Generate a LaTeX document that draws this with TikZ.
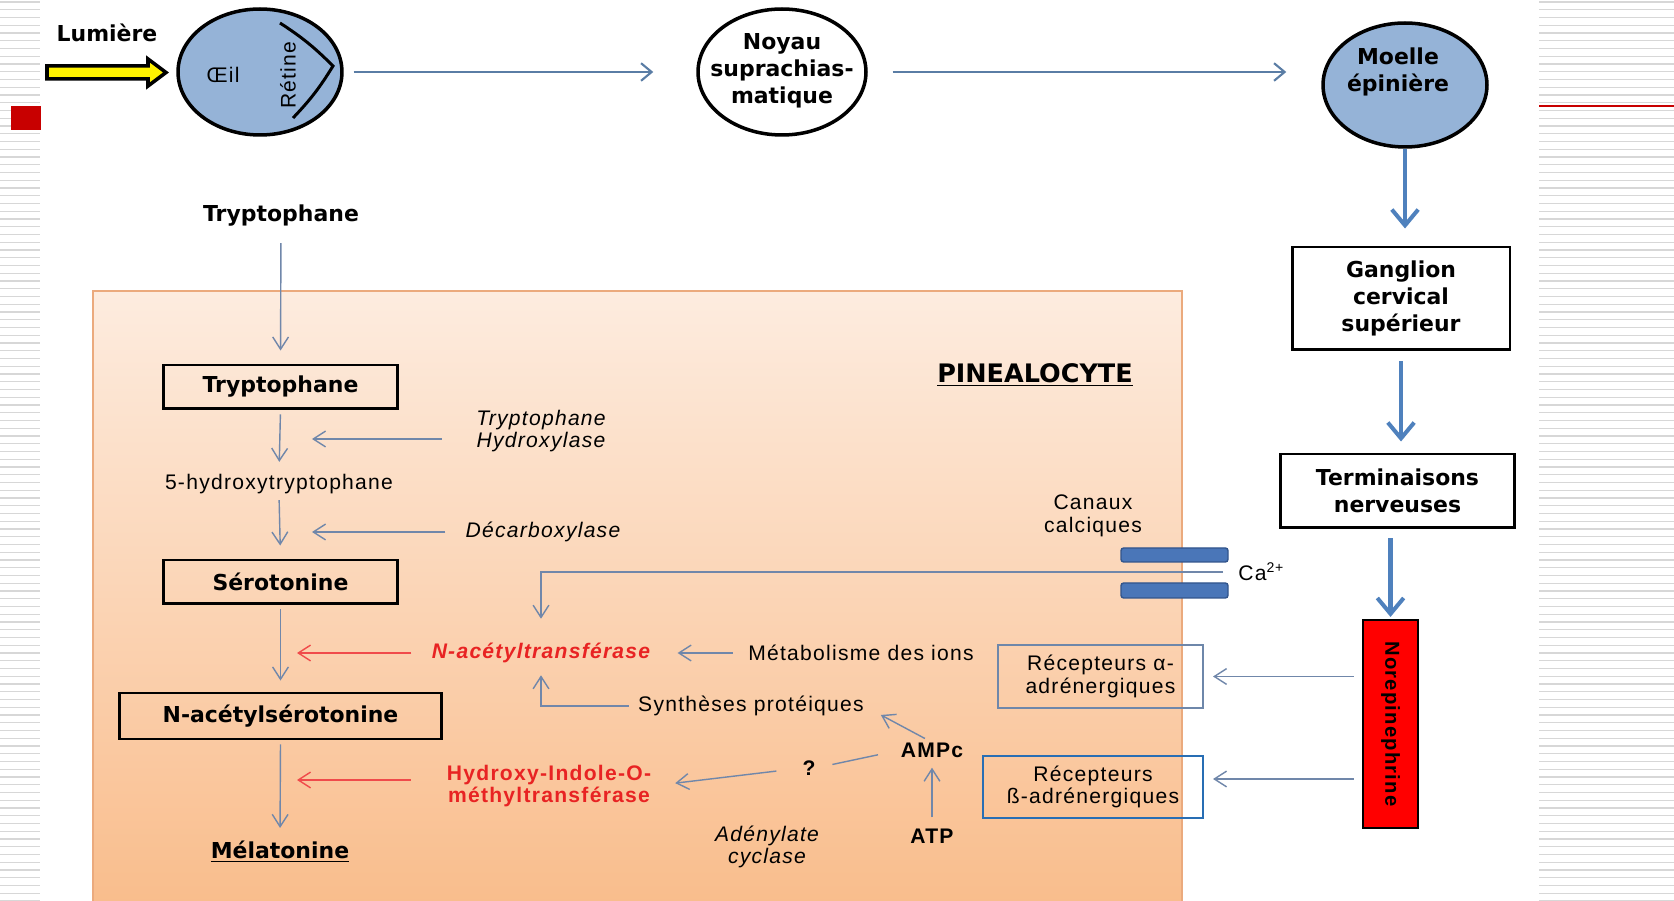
\documentclass[tikz,border=0pt]{standalone}
\usepackage{fontspec}
\setmainfont{Liberation Sans}[LetterSpace=6]
\newfontfamily\verd{DejaVu Sans}
\usepackage{tikz}
\usetikzlibrary{arrows.meta, shapes.geometric}
\usepackage{xcolor}

\definecolor{eyeblue}{RGB}{149,179,215}
\definecolor{arrowgray}{RGB}{112,135,170}
\definecolor{topgray}{RGB}{90,125,165}
\definecolor{thickblue}{RGB}{79,129,189}
\definecolor{redflowc}{RGB}{240,75,75}
\definecolor{redtext}{RGB}{232,35,35}
\definecolor{recAcol}{RGB}{110,135,170}
\definecolor{recBcol}{RGB}{40,110,180}
\definecolor{chanfill}{RGB}{74,118,184}
\definecolor{chanedge}{RGB}{50,85,140}
\definecolor{pinetop}{RGB}{253,236,223}
\definecolor{pinebot}{RGB}{249,189,140}
\definecolor{pineedge}{RGB}{235,170,125}
\definecolor{stripegray}{RGB}{215,215,215}
\definecolor{slidered}{RGB}{200,0,0}

\begin{document}
\begin{tikzpicture}[
    x=0.02cm, y=-0.02cm,
    lab/.style={inner sep=0pt, align=center, font=\fontsize{12}{13}\selectfont},
    enz/.style={lab, font=\fontsize{12}{13}\selectfont\itshape},
    boldlab/.style={inner sep=0pt, align=center, font=\verd\bfseries\fontsize{12.5}{15.5}\selectfont},
    stepbox/.style={boldlab, draw, line width=1.7pt},
    organ/.style={ellipse, draw, line width=2pt, inner sep=0pt},
    recbox/.style={lab, draw, line width=1.2pt},
    chan/.style={draw=chanedge, fill=chanfill, line width=0.8pt, rounded corners=1.5pt, inner sep=0pt},
    stripe/.style={draw=stripegray, line width=0.8pt},
    flow/.style={draw=arrowgray, line width=0.8pt, -{Straight Barb[length=7pt,width=9pt]}},
    redflow/.style={draw=redflowc, line width=0.8pt, -{Straight Barb[length=7pt,width=9pt]}},
    toparrow/.style={draw=topgray, line width=1.2pt, -{Straight Barb[length=6pt,width=10pt]}},
    thickarrow/.style={draw=thickblue, line width=2.3pt, -{Straight Barb[length=9pt,width=15pt]}}
]
\useasboundingbox (0,0) rectangle (1674,901);

% Slide strips
\foreach \k in {0,...,116} {
    \draw[stripe] (0,{\k*7.75+2}) -- (40,{\k*7.75+2});
    \draw[stripe] (1539,{\k*7.75+2}) -- (1674,{\k*7.75+2});
}
\fill[slidered] (11,106) rectangle (41,130);
\draw[slidered, line width=1.5pt] (1539,106) -- (1674,106);

% Pinealocyte
\shade[top color=pinetop, bottom color=pinebot] (93,291) rectangle (1182,905);
\draw[pineedge, line width=1pt] (93,905) -- (93,291) -- (1182,291) -- (1182,905);
\node[boldlab, font=\verd\bfseries\fontsize{14.5}{17}\selectfont] (pineal) at (1035,375) {\underline{PINEALOCYTE}};

% Top row
\node[boldlab] (lumiere) at (107,33) {Lumière};
\draw[fill=yellow, line width=2pt] (47,66) -- (148,66) -- (148,59) -- (166,72.5) -- (148,86) -- (148,79) -- (47,79) -- cycle;
\node[organ, fill=eyeblue, minimum width=3.28cm, minimum height=2.52cm] (oeil) at (260,72) {};
\node[lab] (oeiltxt) at (223,75) {Œil};
\node[lab, rotate=90] (retine) at (288,75) {Rétine};
\draw[line width=1.7pt] (280,23) to[bend left=6] (333,66) to[bend left=6] (293,118);

\node[organ, fill=white, minimum width=3.36cm, minimum height=2.52cm] (noyau) at (782,72) {};
\node[boldlab] (noyautxt) at (782,71) {Noyau\\suprachias-\\matique};

\node[organ, fill=eyeblue, minimum width=3.28cm, minimum height=2.48cm] (moelle) at (1405,85) {};
\node[boldlab] (moelletxt) at (1398,72) {Moelle\\épinière};

\draw[toparrow, shorten <=0.2cm, shorten >=0.86cm] (oeil.east) -- (noyau.west);
\draw[toparrow, shorten <=0.5cm, shorten >=0.7cm] (noyau.east) -- (noyau.east -| moelle.west);

% Right column
\node[stepbox, minimum width=4.36cm, minimum height=2.06cm] (ganglion) at (1401,298.5) {Ganglion\\cervical\\supérieur};
\node[stepbox, minimum width=4.7cm, minimum height=1.48cm] (termin) at (1397.5,491) {Terminaisons\\nerveuses};
\node[draw, line width=1.2pt, fill=red, minimum width=1.1cm, minimum height=4.16cm, inner sep=0pt] (norepi) at (1390.5,724) {};
\node[rotate=-90, inner sep=0pt, font=\bfseries\fontsize{11.5}{13}\selectfont] (norepitxt) at (norepi.center) {Norepinephrine};

\draw[thickarrow, shorten >=0.34cm] (moelle.south) -- (moelle.south |- ganglion.north);
\draw[thickarrow, shorten <=0.2cm, shorten >=0.22cm] (ganglion.south) -- (ganglion.south |- termin.north);
\draw[thickarrow, shorten <=0.18cm, shorten >=0.04cm] (termin.south -| norepi.north) -- (norepi.north);

% Receptors and calcium channels
\node[recbox, draw=recAcol, minimum width=4.1cm, minimum height=1.26cm] (recA) at (1100.5,676.5) {Récepteurs α-\\adrénergiques};
\node[recbox, draw=recBcol, minimum width=4.4cm, minimum height=1.24cm] (recB) at (1093,787) {Récepteurs\\ß-adrénergiques};
\coordinate (recBin) at ([yshift=0.16cm]recB.east);
\draw[flow, shorten <=0.16cm, shorten >=0.18cm] (recA.east -| norepi.west) -- (recA.east);
\draw[flow, shorten <=0.16cm, shorten >=0.18cm] (recBin -| norepi.west) -- (recBin);

\node[lab] (canaux) at (1093,516) {Canaux\\calciques};
\node[chan, minimum width=2.14cm, minimum height=0.28cm] (chanA) at (1174.5,555) {};
\node[chan, minimum width=2.14cm, minimum height=0.3cm] (chanB) at (1174.5,590.5) {};
\node[lab, anchor=west] (ca) at (1238,572) {Ca\textsuperscript{2+}};

% Regulation of the enzymes
\node[lab, font=\fontsize{12}{13}\selectfont\bfseries\itshape, text=redtext] (nat) at (541,653) {N-acétyltransférase};
\node[lab] (metab) at (861,653) {Métabolisme des ions};
\node[lab] (synth) at (751,706) {Synthèses protéiques};
\node[lab, font=\fontsize{12}{13}\selectfont\bfseries] (ampc) at (932,750) {AMPc};
\node[lab, font=\fontsize{12}{13}\selectfont\bfseries] (qmark) at (809,768) {?};
\node[lab, font=\fontsize{12}{13}\selectfont\bfseries, text=redtext] (hiomt) at (549,786) {Hydroxy-Indole-O-\\méthyltransférase};
\node[lab, font=\fontsize{12}{13}\selectfont\bfseries] (atp) at (932,836) {ATP};
\node[enz] (adenyl) at (767,847) {Adénylate\\cyclase};

\draw[flow, shorten <=0.3cm, shorten >=0.48cm] (ca.west) -| (nat.north);
\draw[flow, shorten <=0.3cm, shorten >=0.54cm] (metab.west) -- (nat.east);
\draw[flow, shorten <=0.18cm, shorten >=0.24cm] (synth.west) -| (nat.south);
\draw[flow, shorten <=0.16cm, shorten >=0.38cm] (ampc.north) -- (synth.east);
\draw[draw=arrowgray, line width=0.8pt, shorten <=0.46cm, shorten >=0.34cm] (ampc.west) -- (qmark.east);
\draw[flow, shorten <=0.52cm, shorten >=0.48cm] (qmark.west) -- (hiomt.east);
\draw[flow, shorten <=0.22cm, shorten >=0.2cm] (atp.north) -- (ampc.south);

% Left column - synthesis chain
\node[boldlab] (tryin) at (281,216) {Tryptophane};
\node[stepbox, minimum width=4.7cm, minimum height=0.88cm] (tryp) at (280.5,387) {Tryptophane};
\node[lab] (htp) at (279,484) {5-hydroxytryptophane};
\node[stepbox, minimum width=4.7cm, minimum height=0.88cm] (sero) at (280.5,582) {Sérotonine};
\node[stepbox, minimum width=6.46cm, minimum height=0.92cm] (nas) at (280.5,716) {N-acétylsérotonine};
\node[boldlab] (mela) at (280,852) {\underline{Mélatonine}};

\draw[flow, shorten <=0.32cm, shorten >=0.26cm] (tryin.south) -- (tryp.north);
\draw[flow, shorten <=0.08cm, shorten >=0.24cm] (tryp.south) -- (htp.north);
\draw[flow, shorten <=0.12cm, shorten >=0.26cm] (htp.south) -- (sero.north);
\draw[flow, shorten <=0.08cm, shorten >=0.22cm] (sero.south) -- (nas.north);
\draw[flow, shorten <=0.08cm, shorten >=0.26cm] (nas.south) -- (mela.north);

% Enzymes acting on the chain
\node[enz] (hydrox) at (541,431) {Tryptophane\\Hydroxylase};
\node[enz] (decarb) at (543,532) {Décarboxylase};
\coordinate (j1) at (281,439);
\coordinate (j2) at (281,532);
\coordinate (j3) at (281,653);
\coordinate (j4) at (281,780);
\draw[flow, shorten <=0.68cm, shorten >=0.62cm] (hydrox.west |- j1) -- (j1);
\draw[flow, shorten <=0.4cm, shorten >=0.62cm] (decarb.west |- j2) -- (j2);
\draw[redflow, shorten <=0.4cm, shorten >=0.32cm] (nat.west |- j3) -- (j3);
\draw[redflow, shorten <=0.72cm, shorten >=0.32cm] (hiomt.west |- j4) -- (j4);

\end{tikzpicture}
\end{document}
